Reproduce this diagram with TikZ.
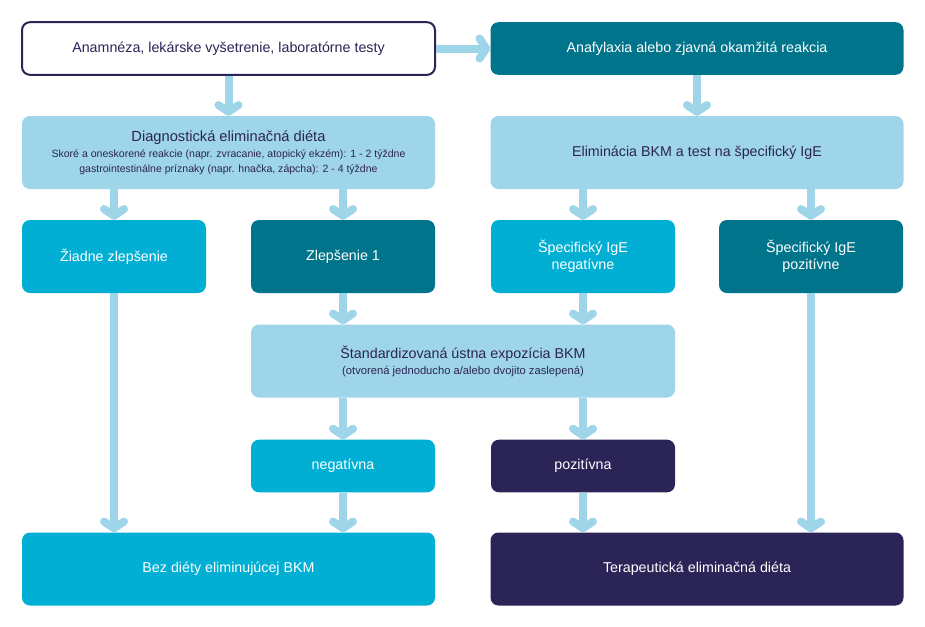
\documentclass[tikz,border=0pt]{standalone}
\usepackage{fontspec}
\setmainfont{Liberation Sans}
\usetikzlibrary{arrows.meta}
\usetikzlibrary{positioning}
\definecolor{lite}{HTML}{9FD5E8}
\definecolor{cyn}{HTML}{00AFD3}
\definecolor{teal}{HTML}{00748A}
\definecolor{navy}{HTML}{2B2457}
\tikzset{box/.style={rounded corners=6pt, align=center, inner sep=0pt, font=\fontsize{10.7}{13}\selectfont}}
\tikzset{wide/.style={box, minimum width=309.75pt}}
\tikzset{narrow/.style={box, minimum width=138pt}}
\tikzset{mid/.style={box, minimum width=318pt}}
\tikzset{tall/.style={minimum height=54.75pt}}
\tikzset{flat/.style={minimum height=39.5pt}}
\tikzset{lbox/.style={fill=lite, text=navy}}
\tikzset{cbox/.style={fill=cyn, text=white}}
\tikzset{tbox/.style={fill=teal, text=white}}
\tikzset{nbox/.style={fill=navy, text=white}}
\tikzset{flow/.style={draw=lite, line width=6pt, -{Straight Barb[length=5pt,width=15pt,round]}}}

\begin{document}
\begin{tikzpicture}[x=0.75pt, y=-0.75pt]
\useasboundingbox (0,0) rectangle (925,626);

%%% top row
\node[wide, flat, fill=white, draw=navy, line width=1.5pt, text=navy] (anam) at (228.5, 48.5) {Anamnéza, lekárske vyšetrenie, laboratórne testy};
\node[wide, flat, tbox] (anaf) at (697, 48.5) {Anafylaxia alebo zjavná okamžitá reakcia};

\node[wide, tall, lbox] (diag) at (228.5, 152.5) {{\fontsize{11}{13}\selectfont Diagnostická eliminačná diéta}\\[-1pt]
{\fontsize{7.9}{9.5}\selectfont Skoré a oneskorené reakcie (napr. zvracanie, atopický ekzém): 1 - 2 týždne}\\[-1.5pt]
{\fontsize{7.9}{9.5}\selectfont gastrointestinálne príznaky (napr. hnačka, zápcha): 2 - 4 týždne}};
\node[wide, tall, lbox] (elim) at (697, 152.5) {Eliminácia BKM a test na špecifický IgE};

%%% results
\node[narrow, tall, cbox] (ziad) at (114, 256.5) {Žiadne zlepšenie};
\node[narrow, tall, tbox] (zlep) at (343, 256.5) {Zlepšenie 1};
\node[narrow, tall, cbox] (spneg) at (583, 256.5) {Špecifický IgE\\negatívne};
\node[narrow, tall, tbox] (sppoz) at (811, 256.5) {Špecifický IgE\\pozitívne};

\node[mid, tall, lbox] (stand) at (463, 361) {{\fontsize{10.7}{13}\selectfont Štandardizovaná ústna expozícia BKM}\\[-1pt]
{\fontsize{8.4}{10}\selectfont (otvorená jednoducho a/alebo dvojito zaslepená)}};

\node[narrow, flat, cbox] (neg) at (343, 466) {negatívna};
\node[narrow, flat, nbox] (poz) at (583, 466) {pozitívna};

%%% outcomes
\node[wide, tall, cbox] (bez) at (228.5, 569) {Bez diéty eliminujúcej BKM};
\node[wide, tall, nbox] (ter) at (697, 569) {Terapeutická eliminačná diéta};

%%% arrows
\draw[flow] (anam.east) -- (anam.east -| anaf.west);
\draw[flow] (anam) -- (diag);
\draw[flow] (anaf) -- (elim);

\draw[flow] (diag.south -| ziad) -- (ziad);
\draw[flow] (diag.south -| zlep) -- (zlep);
\draw[flow] (elim.south -| spneg) -- (spneg);
\draw[flow] (elim.south -| sppoz) -- (sppoz);

\draw[flow] (zlep) -- (stand.north -| zlep);
\draw[flow] (spneg) -- (stand.north -| spneg);
\draw[flow] (stand.south -| neg) -- (neg);
\draw[flow] (stand.south -| poz) -- (poz);

\draw[flow] (ziad) -- (bez.north -| ziad);
\draw[flow] (neg) -- (bez.north -| neg);
\draw[flow] (poz) -- (ter.north -| poz);
\draw[flow] (sppoz) -- (ter.north -| sppoz);

\end{tikzpicture}
\end{document}
